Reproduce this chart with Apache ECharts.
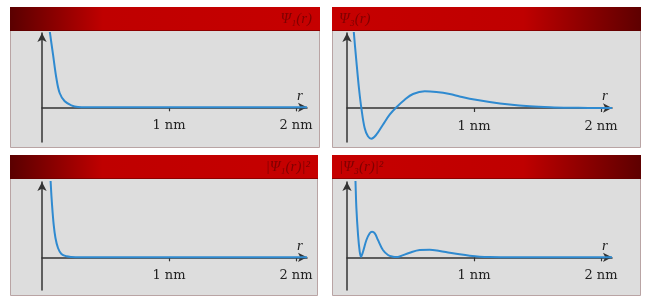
<!DOCTYPE html>
<html>
<head>
<meta charset="utf-8">
<script src="https://cdn.jsdelivr.net/npm/echarts@6/dist/echarts.min.js"></script>
<style>html,body{margin:0;padding:0;background:#fff}#c{width:650px;height:306px}</style>
</head>
<body>
<div id="c"></div>
<script>
// ---- data (r in nm, values in arbitrary units) ----
const titles = ['Ψ₁(r)', 'Ψ₃(r)', '|Ψ₁(r)|²', '|Ψ₃(r)|²'];
const tickValues = [1, 2];

const r1 = [0.03, 0.045, 0.061, 0.087, 0.113, 0.139, 0.179, 0.231, 0.283, 0.35, 2.087];
const psi1 = [108, 92, 76, 52.6, 29.3, 14.3, 6, 2, 0.3, 0, 0];

const r3 = [0.03, 0.053, 0.074, 0.094, 0.113, 0.139, 0.165, 0.192, 0.231, 0.283, 0.336, 0.389, 0.454, 0.52, 0.612, 0.704, 0.809, 0.887, 0.966, 1.123, 1.28, 1.44, 1.6, 1.75, 1.9, 2.087];
const psi3 = [115, 76.7, 46.7, 20, 0, -20, -28.3, -30.7, -26.7, -16.7, -6.7, 0.7, 8.3, 14, 16.7, 16, 14, 11.5, 9.2, 6, 3.5, 1.8, 0.8, 0.3, 0.1, 0];

const rp1 = [0.055, 0.069, 0.079, 0.092, 0.106, 0.126, 0.153, 0.192, 0.231, 0.3, 2.087];
const prob1 = [110, 73.3, 52.6, 32.6, 19.3, 9.3, 3.3, 1, 0.3, 0, 0];

const rp3 = [0.05, 0.066, 0.074, 0.087, 0.1, 0.11, 0.126, 0.153, 0.179, 0.197, 0.219, 0.244, 0.283, 0.323, 0.362, 0.39, 0.415, 0.494, 0.573, 0.651, 0.73, 0.809, 0.887, 0.966, 1.045, 1.123, 1.3, 2.087];
const prob3 = [130, 79, 49, 22.3, 5.6, 0.6, 5.6, 17.3, 24, 25.6, 24, 17.3, 7.3, 2.3, 0.6, 0.2, 0.8, 4.6, 7.3, 7.6, 6.3, 4.6, 3, 1.6, 0.6, 0.2, 0, 0];

const yRanges = [[-34.7, 74.3], [-34, 75], [-32.7, 75.3], [-32.7, 75.3]];

// ---- build ----
const zip = (a, b) => a.map((v, i) => [v, b[i]]);
const seriesData = [zip(r1, psi1), zip(r3, psi3), zip(rp1, prob1), zip(rp3, prob3)];

const grids = [
  {left: 42, top: 33, width: 265, height: 109},
  {left: 347, top: 33, width: 265, height: 109},
  {left: 42, top: 182, width: 265, height: 108},
  {left: 347, top: 182, width: 265, height: 108}
];
const panels = [
  {x: 10, y: 7, w: 309, h: 140, dark: 'left', titleAlign: 'right'},
  {x: 332, y: 7, w: 308, h: 140, dark: 'right', titleAlign: 'left'},
  {x: 10, y: 155, w: 307, h: 140, dark: 'left', titleAlign: 'right'},
  {x: 332, y: 155, w: 308, h: 140, dark: 'right', titleAlign: 'left'}
];
const headerH = 24;

const axisColor = '#333';
const graphics = [];
panels.forEach((p, i) => {
  graphics.push({type: 'rect', z: -10, shape: {x: p.x + 0.5, y: p.y + 0.5, width: p.w, height: p.h},
    style: {fill: '#dddddd', stroke: '#b9a4a4', lineWidth: 1}});
  const stops = p.dark === 'left'
    ? [{offset: 0, color: '#5a0000'}, {offset: 0.3, color: '#bf0000'}, {offset: 1, color: '#c60000'}]
    : [{offset: 0, color: '#c60000'}, {offset: 0.62, color: '#bf0000'}, {offset: 1, color: '#5e0000'}];
  graphics.push({type: 'rect', z: -9, shape: {x: p.x, y: p.y, width: p.w + 1, height: headerH},
    style: {fill: new echarts.graphic.LinearGradient(0, 0, 1, 0, stops)}});
  graphics.push({type: 'rect', z: -9, shape: {x: p.x, y: p.y + headerH - 1, width: p.w + 1, height: 1},
    style: {fill: 'rgba(90,0,0,0.5)'}});
  graphics.push({type: 'text', z: -8,
    x: p.titleAlign === 'right' ? p.x + p.w - 7 : p.x + 7, y: p.y + headerH / 2 + 0.5,
    style: {text: titles[i], fill: 'rgba(120,0,0,0.9)', font: 'italic 15px "Liberation Serif", "DejaVu Serif", serif',
      align: p.titleAlign, verticalAlign: 'middle'}});
});

const option = {
  animation: false,
  backgroundColor: '#ffffff',
  graphic: graphics,
  grid: grids,
  xAxis: grids.map((g, i) => ({
    type: 'value', gridIndex: i, min: 0, max: 2.087,
    position: 'bottom',
    offset: -g.height * (-yRanges[i][0]) / (yRanges[i][1] - yRanges[i][0]),
    splitLine: {show: false},
    axisLine: {show: true, onZero: false, symbol: ['none', 'arrow'], symbolSize: [7, 9],
      lineStyle: {color: axisColor, width: 1.5}},
    axisTick: {show: true, customValues: tickValues, length: 4, lineStyle: {color: axisColor, width: 1.2}},
    axisLabel: {show: true, customValues: tickValues, formatter: '{value} nm', margin: 12,
      color: '#222', fontSize: 13, fontFamily: '"DejaVu Serif", "Liberation Serif", serif'},
    name: 'r', nameLocation: 'end', nameGap: -7,
    nameTextStyle: {fontStyle: 'italic', fontSize: 15, color: '#222', fontFamily: '"Liberation Serif", "DejaVu Serif", serif',
      align: 'center', verticalAlign: 'bottom', padding: [0, 0, 4, 0]}
  })),
  yAxis: grids.map((g, i) => ({
    type: 'value', gridIndex: i, min: yRanges[i][0], max: yRanges[i][1],
    splitLine: {show: false}, axisTick: {show: false}, axisLabel: {show: false},
    axisLine: {show: true, onZero: false, symbol: ['none', 'arrow'], symbolSize: [7, 9],
      lineStyle: {color: axisColor, width: 1.5}}
  })),
  series: seriesData.map((d, i) => ({
    type: 'line', xAxisIndex: i, yAxisIndex: i, data: d, showSymbol: false, smooth: 0.35,
    clip: true, lineStyle: {color: '#2f8ad0', width: 2}, z: 5
  }))
};

const chart = echarts.init(document.getElementById('c'), null, {renderer: 'canvas'});
chart.setOption(option);
</script>
</body>
</html>
